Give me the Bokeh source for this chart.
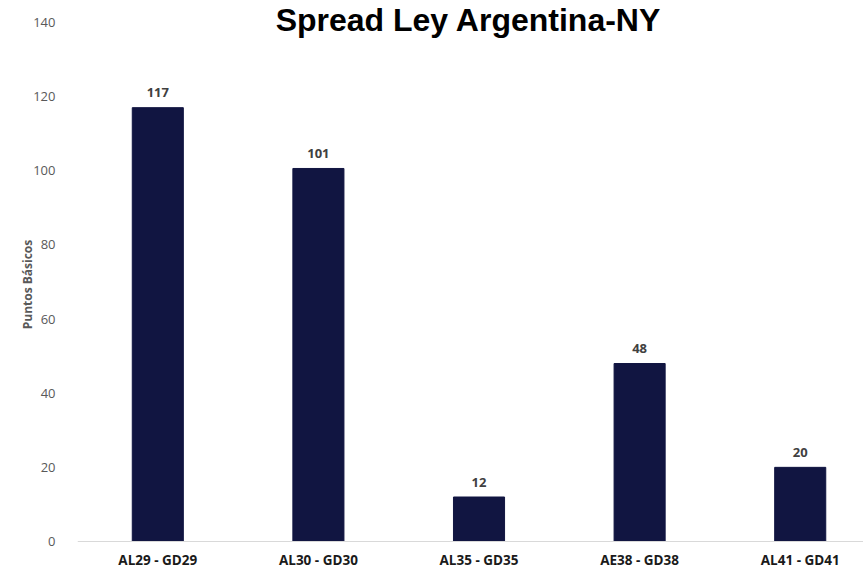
from bokeh.plotting import figure
from bokeh.models import FixedTicker, Range1d, ColumnDataSource, Span
from bokeh.core.properties import value
from bokeh.embed import file_html
from bokeh.resources import INLINE

categories = ["AL29 - GD29", "AL30 - GD30", "AL35 - GD35", "AE38 - GD38", "AL41 - GD41"]
spreads = [117, 100.6, 12, 48, 20]
labels = ["117", "101", "12", "48", "20"]
y_ticks = [0, 20, 40, 60, 80, 100, 120, 140]
title_text = "Spread Ley Argentina-NY"

xs = list(range(len(categories)))
src = ColumnDataSource(dict(x=xs, top=spreads, lab=labels, cat=categories, zero=[0] * len(xs)))

p = figure(width=863, height=568, output_backend="svg", toolbar_location=None,
           x_range=Range1d(-0.5, 4.394), y_range=Range1d(-7.28, 145.9),
           x_axis_location=None,
           min_border_left=77, min_border_right=0, min_border_top=0, min_border_bottom=0)
p.outline_line_color = None
p.xgrid.visible = False
p.ygrid.visible = False
p.background_fill_color = "white"
p.border_fill_color = "white"

# baseline
p.add_layout(Span(location=0, dimension="width", line_color="#d9d9d9", line_width=1))

p.vbar(x="x", top="top", width=0.318, bottom=0, source=src,
       fill_color="#111541", line_color="#111541")

# value labels
p.text(x="x", y="top", text="lab", source=src, text_align="center",
       text_baseline="alphabetic", y_offset=-15, text_font=value("Open Sans"),
       text_font_style="bold", text_font_size="13px", text_color="#404040")

# category labels
p.text(x="x", y="zero", text="cat", source=src, text_align="center",
       text_baseline="middle", y_offset=18, text_font=value("Open Sans"),
       text_font_style="bold", text_font_size="13.5px", text_color="#1a1a1a")

# title
p.text(x=[1.935], y=[140.6], text=[title_text], text_align="center",
       text_baseline="alphabetic", text_font=value("Liberation Sans"),
       text_font_style="bold", text_font_size="32px", text_color="#000000")

# y axis
p.yaxis.ticker = FixedTicker(ticks=y_ticks)
p.yaxis.axis_line_color = None
p.yaxis.major_tick_line_color = None
p.yaxis.minor_tick_line_color = None
p.yaxis.major_label_standoff = 16
p.yaxis.major_label_text_font = "Open Sans"
p.yaxis.major_label_text_font_size = "13px"
p.yaxis.major_label_text_color = "#595959"
p.yaxis.axis_label = "Puntos Básicos"
p.yaxis.axis_label_text_font = "Open Sans"
p.yaxis.axis_label_text_font_style = "bold"
p.yaxis.axis_label_text_font_size = "12px"
p.yaxis.axis_label_text_color = "#595959"
p.yaxis.axis_label_standoff = -6

open("out.html", "w").write(file_html(p, INLINE))
